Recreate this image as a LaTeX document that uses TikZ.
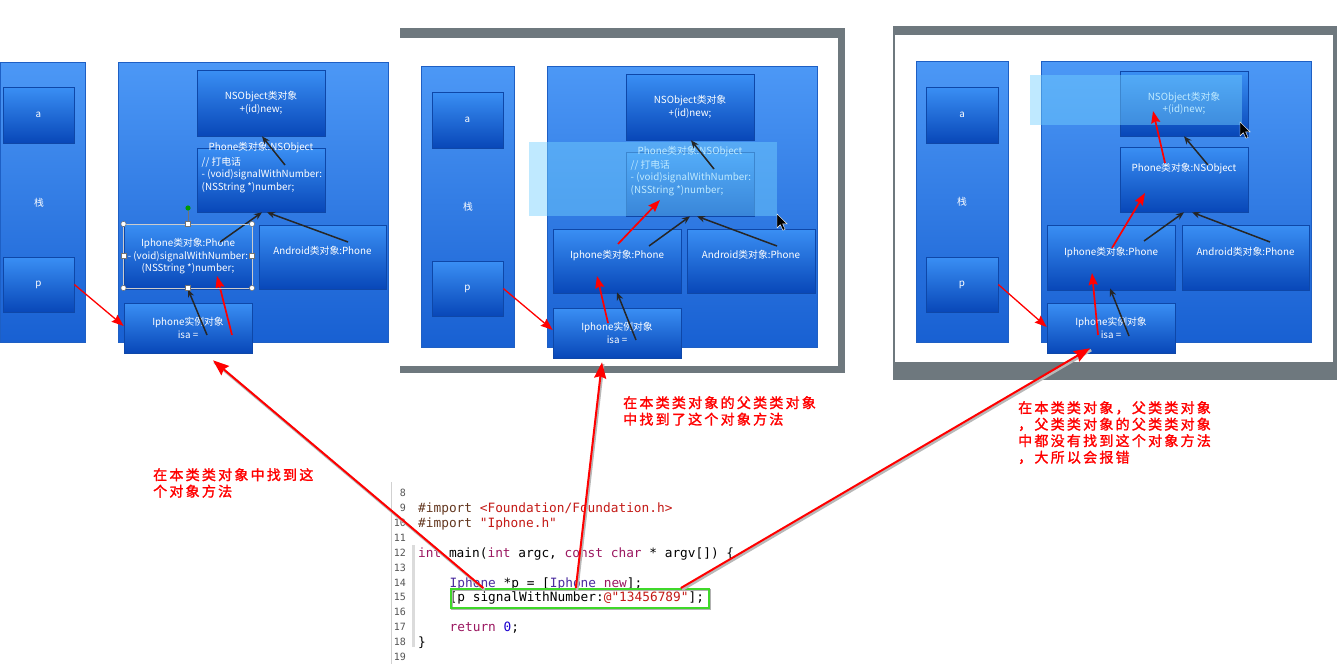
\documentclass[tikz,border=0pt]{standalone}
\usepackage{fontspec}
\newfontfamily\cjk{Noto Sans CJK SC}
\newfontfamily\redf[LetterSpace=16,FakeBold=1.6]{Noto Sans CJK SC}
\newfontfamily\codef{DejaVu Sans Mono}
\usetikzlibrary{arrows.meta,calc}
\definecolor{coltop}{HTML}{4C98F6}
\definecolor{colbot}{HTML}{1860D2}
\definecolor{colbd}{HTML}{1E5FC4}
\definecolor{bxtop}{HTML}{3A8FF4}
\definecolor{bxbot}{HTML}{0847B8}
\definecolor{bxbd}{HTML}{0E47A8}
\definecolor{hlc}{RGB}{116,209,255}
\definecolor{frm}{HTML}{6E787E}
\definecolor{cpre}{HTML}{643820}
\definecolor{cstr}{HTML}{C41A16}
\definecolor{ckw}{HTML}{9B1760}
\definecolor{ccls}{HTML}{4B2C9F}
\definecolor{cnum}{HTML}{1C00CF}
\definecolor{lngray}{HTML}{555555}
\definecolor{grn}{HTML}{3FD82A}
\newcommand\bxfont{\cjk\fontsize{9.8}{12.5}\selectfont}
\begin{document}
\begin{tikzpicture}[x=1pt,y=-1pt,
  col/.style={draw=colbd,line width=0.5pt,top color=coltop,bottom color=colbot,inner sep=0pt},
  bx/.style={draw=bxbd,line width=0.6pt,top color=bxtop,bottom color=bxbot,text=white,font=\bxfont,align=center,inner sep=0pt,minimum width=128,minimum height=64},
  wt/.style={text=white,font=\bxfont,inner sep=0pt},
  blk/.style={draw=black!85,line width=1.5pt,-{Stealth[length=8pt,width=6.5pt]}},
  rd/.style={draw=red,line width=1.7pt,-{Stealth[length=12pt,width=9pt,inset=1.5pt]}},
  big/.style={draw=red,line width=2pt,-{Stealth[length=16pt,width=12pt,inset=2pt]}},
  shd/.style={draw=black!28,line width=2.6pt,transform canvas={shift={(1.2pt,-1.8pt)}}},
  ln/.style={font=\codef\fontsize{10}{12}\selectfont,text=lngray,anchor=base east,inner sep=0pt},
  cd/.style={font=\codef\fontsize{12.8}{15}\selectfont,anchor=base west,inner sep=0pt},
  note/.style={font=\redf\fontsize{14}{16.5}\selectfont,text=red,align=left,anchor=north west,inner sep=0pt},
  hnd/.style={fill=white,draw=black!55,line width=0.5pt}]
\useasboundingbox (0,0) rectangle (1337,664);
\fill[white] (0,0) rectangle (1337,664);

% ---------- frames ----------
\fill[frm] (400,28) rectangle (845,373);
\fill[white] (400,38) rectangle (838,366);
\fill[frm] (893,26) rectangle (1337,380);
\fill[white] (895,35) rectangle (1333,362);

% ================= Panel 1 =================
\node[col,minimum width=85,minimum height=280] (stk1) at (42.5,202) {};
\node[bx,minimum width=71,minimum height=56] (a1) at (38.5,115) {a};
\node[wt] (s1) at (39,203) {栈};
\node[bx,minimum width=71,minimum height=55] (p1) at (38.5,284.5) {p};
\node[col,minimum width=270,minimum height=280] (heap1) at (253,202) {};
\node[bx,minimum height=66] (ns1) at (261,103) {NSObject类对象\\+(id)new;};
\node[bx] (ph1) at (261,180) {};
\node[wt] (pt1) at (261,148) {Phone类对象:NSObject};
\node[wt,anchor=north west,align=left] (pm1) at (201.5,157) {// 打电话\\- (void)signalWithNumber:\\(NSString *)number;};
\node[bx,minimum height=65] (ip1) at (188,256.5) {Iphone类对象:Phone\\- (void)signalWithNumber:\\(NSString *)number;};
\node[bx,minimum width=127] (an1) at (322.5,257) {Android类对象:Phone\\\mbox{}};
\node[bx,minimum height=50] (in1) at (188,328) {Iphone实例对象\\isa =};
\draw[blk] ($(ph1.center)+(24,-15)$) -- ($(ns1.south)+(1,0)$);
\draw[blk] ($(ip1.center)+(32,-14.5)$) -- ($(ph1.south)+(1,0)$);
\draw[blk] ($(an1.center)+(25.5,-15)$) -- ($(ph1.south)+(6,0)$);
\draw[blk] ($(in1.center)+(19,7)$) -- (ip1.south);
\draw[rd] ($(in1.center)+(44,7)$) -- ($(ip1.center)+(29,19.5)$);
\draw[rd,line width=1.3pt] (p1.east) -- ($(in1.west)+(0,-2)$);
% selection handles
\draw[white!80!black,line width=0.4pt] (123.5,224) rectangle (252,288);
\draw[black!55,line width=0.4pt] (188,211) -- (188,224);
\fill[green!60!black] (188,208) circle (2.6);
\foreach \hx/\hy in {123.5/224,252/224,123.5/288,252/288}
  \draw[hnd] (\hx,\hy) circle (2.6);
\foreach \hx/\hy in {188/224,188/288,123.5/256,252/256}
  \draw[hnd] (\hx-2.6,\hy-2.6) rectangle (\hx+2.6,\hy+2.6);

% ================= Panel 2 =================
\node[col,minimum width=93,minimum height=281] (stk2) at (467.5,206.5) {};
\node[bx,minimum width=71,minimum height=56] (a2) at (467.5,120) {a};
\node[wt] (s2) at (468,207) {栈};
\node[bx,minimum width=71,minimum height=55] (p2) at (467.5,288.5) {p};
\node[col,minimum width=270,minimum height=281] (heap2) at (682,206.5) {};
\node[bx,minimum height=66] (ns2) at (690,107) {NSObject类对象\\+(id)new;};
\node[bx] (ph2) at (690,184) {};
\node[wt] (pt2) at (690,152) {Phone类对象:NSObject};
\node[wt,anchor=north west,align=left] (pm2) at (630.5,160) {// 打电话\\- (void)signalWithNumber:\\(NSString *)number;};
\fill[hlc,opacity=0.46] (529,142) rectangle (777,216);
\node[bx] (ip2) at (617,261) {Iphone类对象:Phone\\\mbox{}};
\node[bx] (an2) at (751,261) {Android类对象:Phone\\\mbox{}};
\node[bx,minimum height=50] (in2) at (617,333) {Iphone实例对象\\isa =};
\draw[blk] ($(ph2.center)+(24,-15)$) -- ($(ns2.south)+(1,0)$);
\draw[rd] ($(ip2.center)+(1,-17)$) -- ($(ph2.center)+(-30,16)$);
\draw[blk] ($(ip2.center)+(32,-15)$) -- (ph2.south);
\draw[blk] ($(an2.center)+(26,-15)$) -- ($(ph2.south)+(7,0)$);
\draw[rd] ($(in2.center)+(-9,-10)$) -- ($(ip2.center)+(-20,15)$);
\draw[blk] ($(in2.center)+(19,7)$) -- ($(ip2.south)+(0,-1)$);
\draw[rd,line width=1.3pt] (p2.east) -- ($(in2.west)+(0,-3)$);
\filldraw[black,draw=white,line width=0.4pt] (777,214) -- ++(0,14) -- ++(3.3,-3.3) -- ++(2.6,5.6) -- ++(2.2,-1) -- ++(-2.5,-5.4) -- ++(4.6,0) -- cycle;

% ================= Panel 3 =================
\node[col,minimum width=92,minimum height=281] (stk3) at (962,201.5) {};
\node[bx,minimum width=72,minimum height=56] (a3) at (962,115) {a};
\node[wt] (s3) at (962,202) {栈};
\node[bx,minimum width=72,minimum height=55] (p3) at (962,284.5) {p};
\node[col,minimum width=270,minimum height=281] (heap3) at (1176,201.5) {};
\node[bx,minimum height=65] (ns3) at (1184,103.5) {NSObject类对象\\+(id)new;};
\fill[hlc,opacity=0.46] (1030,75) rectangle (1242,125);
\node[bx,minimum height=65] (ph3) at (1184,179.5) {Phone类对象:NSObject\\\mbox{}\\\mbox{}};
\node[bx,minimum height=65] (ip3) at (1111,257.5) {Iphone类对象:Phone\\\mbox{}};
\node[bx,minimum width=127,minimum height=65] (an3) at (1245.5,257.5) {Android类对象:Phone\\\mbox{}};
\node[bx,minimum height=50] (in3) at (1111,328) {Iphone实例对象\\isa =};
\draw[rd] ($(ph3.center)+(-19,-16.5)$) -- ($(ns3.center)+(-31,7.5)$);
\draw[blk] ($(ph3.center)+(24,-14.5)$) -- (ns3.south);
\draw[rd] ($(ip3.center)+(1,-9.5)$) -- ($(ph3.center)+(-39,13.5)$);
\draw[blk] ($(ip3.center)+(33,-16.5)$) -- (ph3.south);
\draw[blk] ($(an3.center)+(24.5,-15.5)$) -- ($(ph3.south)+(8,0)$);
\draw[rd] ($(in3.center)+(-13,7)$) -- ($(ip3.center)+(-19,15.5)$);
\draw[blk] ($(in3.center)+(18,8)$) -- ($(ip3.south)+(-1,-2)$);
\draw[rd,line width=1.3pt] (p3.east) -- ($(in3.west)+(0,-1)$);
\filldraw[black,draw=white,line width=0.4pt] (1240,122) -- ++(0,14) -- ++(3.3,-3.3) -- ++(2.6,5.6) -- ++(2.2,-1) -- ++(-2.5,-5.4) -- ++(4.6,0) -- cycle;

% ================= Code =================
\draw[black!18,line width=1pt] (391,482) -- (391,664);
\fill[black!14] (411.5,545) rectangle (414.5,647);
\foreach \n in {8,...,19}
  \node[ln] (n\n) at (406,{493+(\n-8)*14.9+3.6}) {\n};
\node[cd] (c9) at (418,512.4) {{\color{cpre}\#import} {\color{cstr}<Foundation/Foundation.h>}};
\node[cd] (c10) at (418,527.3) {{\color{cpre}\#import} {\color{cstr}"Iphone.h"}};
\node[cd] (c12) at (418,557.1) {{\color{ckw}int} main({\color{ckw}int} argc, {\color{ckw}const} {\color{ckw}char} * argv[]) \{};
\node[cd] (c14) at (449.5,587.0) {{\color{ccls}Iphone} *p = [{\color{ccls}Iphone} {\color{ckw}new}];};
\node[cd] (c15) at (449.5,601.9) {[p signalWithNumber:{\color{cstr}@"13456789"}];};
\node[cd] (c17) at (449.5,631.7) {{\color{ckw}return} {\color{cnum}0};};
\node[cd] (c18) at (418,646.6) {\}};
\draw[black!30,line width=2pt] (451.5,590) rectangle (709.5,609);
\node[draw=grn,line width=2pt,minimum width=258,minimum height=19,anchor=north west,inner sep=0pt] (hl) at (450,588) {};

% ================= big arrows =================
\draw[shd] ($(hl.north west)!0.128!(hl.north east)$) -- ($(in1.south)+(25,7)$);
\draw[shd] ($(hl.north west)!0.484!(hl.north east)$) -- ($(in2.south)+(-15,4)$);
\draw[shd] ($(hl.north west)!0.888!(hl.north east)$) -- ($(in3.south)+(-21,-5)$);
\draw[big] ($(hl.north west)!0.128!(hl.north east)$) -- ($(in1.south)+(25,7)$);
\draw[big] ($(hl.north west)!0.484!(hl.north east)$) -- ($(in2.south)+(-15,4)$);
\draw[big] ($(hl.north west)!0.888!(hl.north east)$) -- ($(in3.south)+(-21,-5)$);

% ================= notes =================
\node[note] (t1) at (153,468) {在本类类对象中找到这\\个对象方法};
\node[note] (t2) at (623,396) {在本类类对象的父类类对象\\中找到了这个对象方法};
\node[note] (t3) at (1018,401) {在本类类对象，父类类对象\\，父类类对象的父类类对象\\中都没有找到这个对象方法\\，大所以会报错};
\end{tikzpicture}
\end{document}
